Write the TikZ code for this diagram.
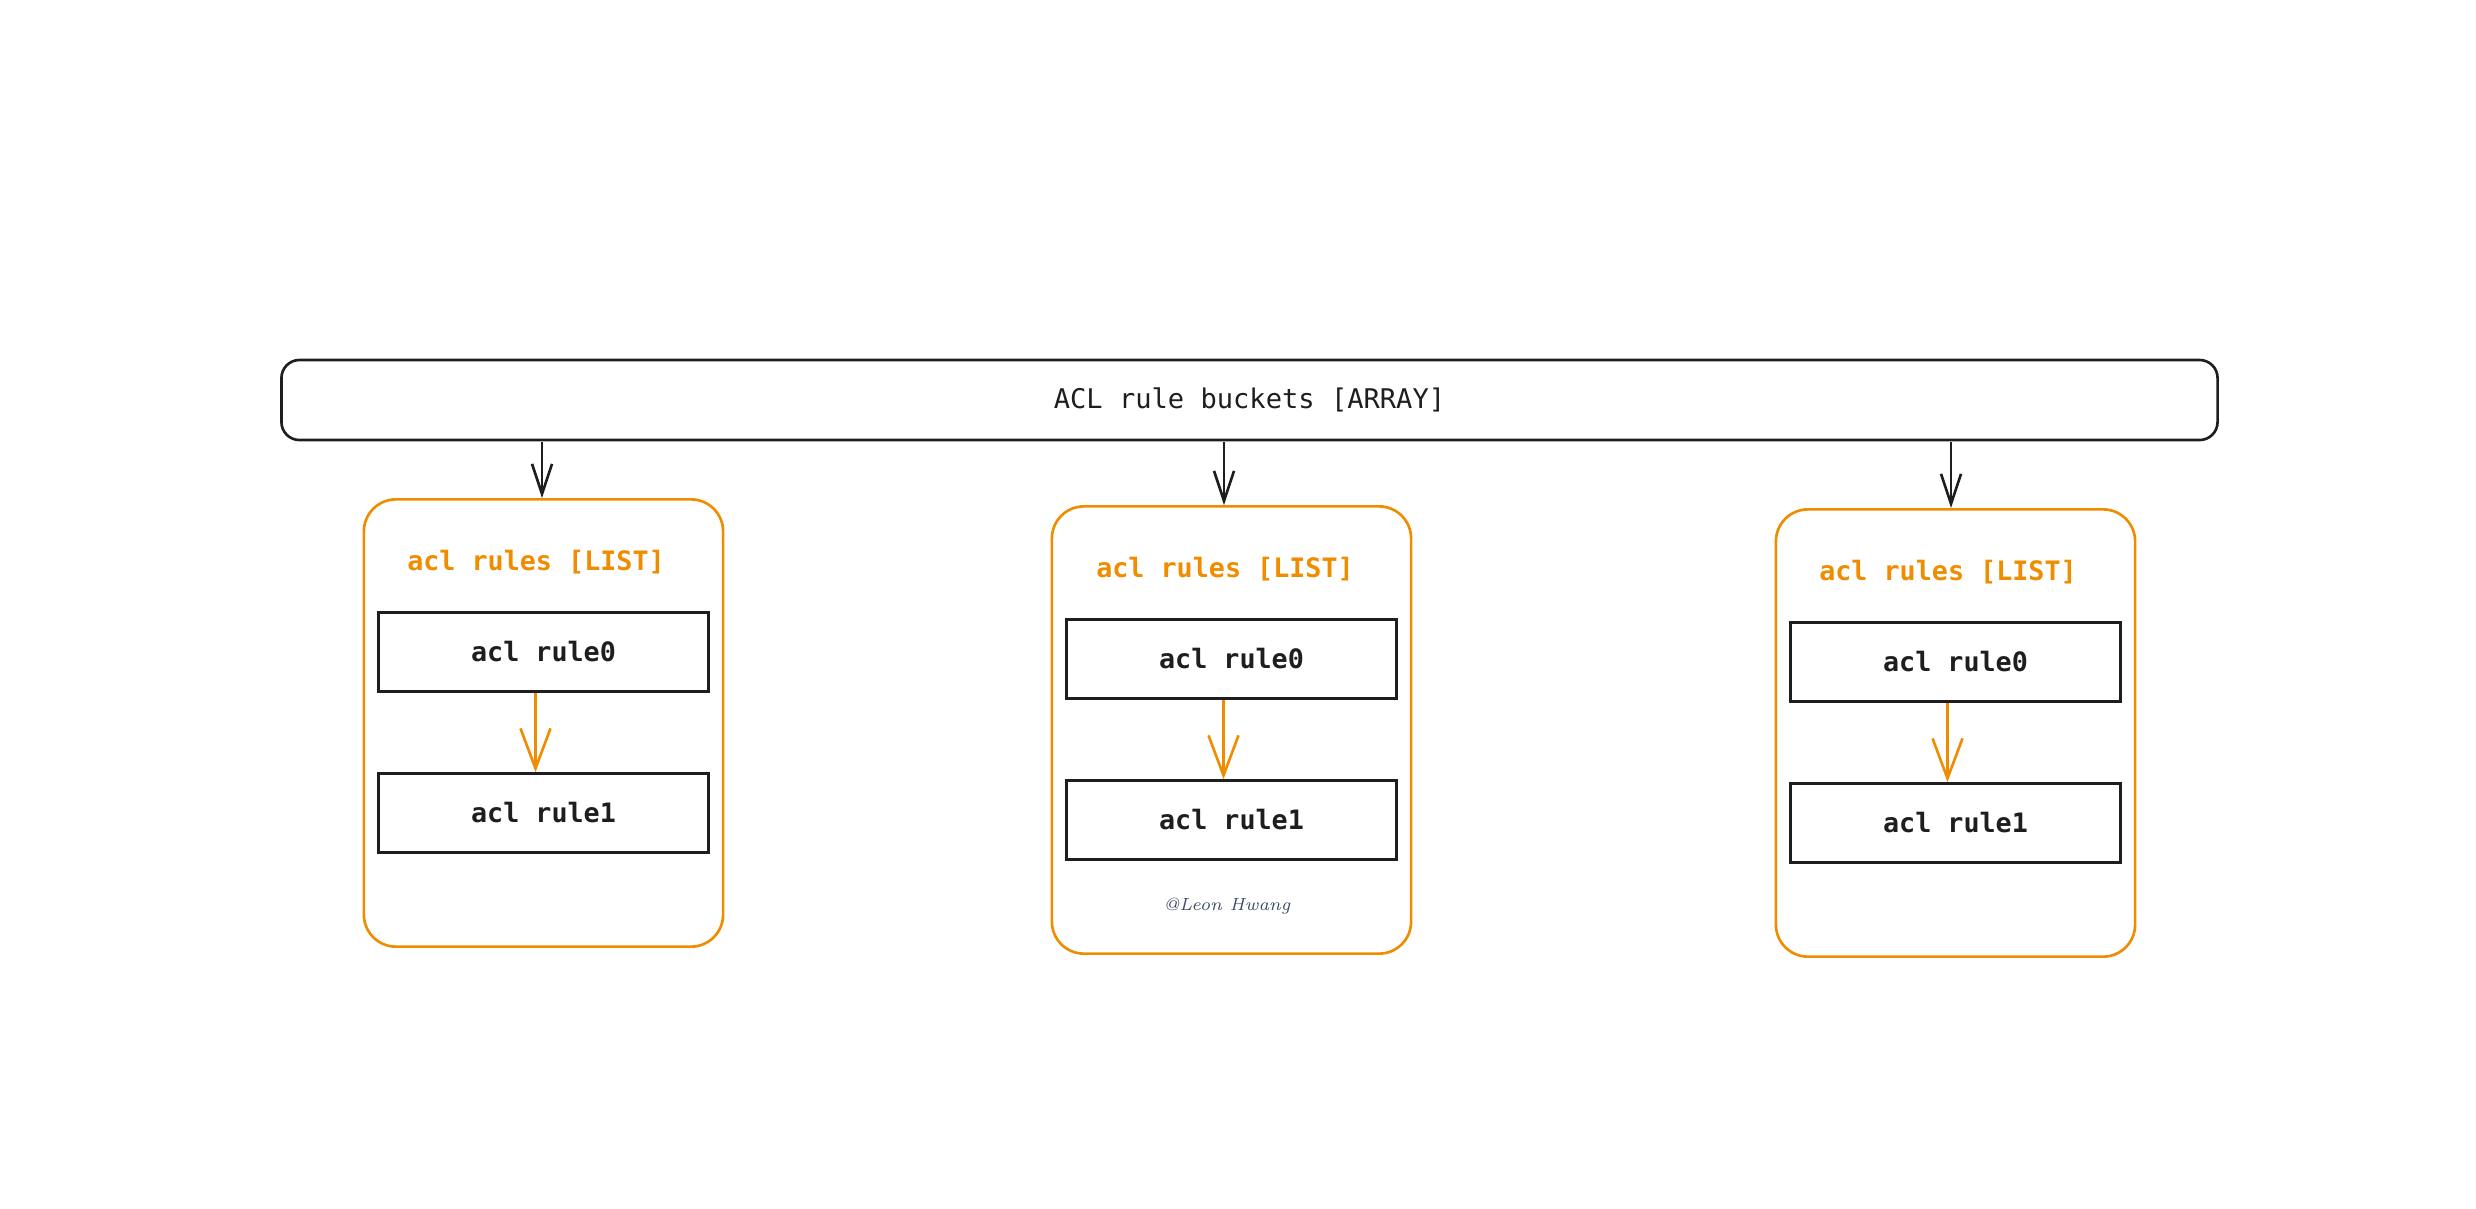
\documentclass[tikz,border=0pt]{standalone}
\usepackage{fontspec}
\setmonofont{DejaVu Sans Mono}
\usetikzlibrary{arrows.meta, positioning}

\definecolor{inkblack}{HTML}{1E1E1E}
\definecolor{listorange}{HTML}{F08C00}
\definecolor{signgray}{HTML}{3B4A66}

\begin{document}
\begin{tikzpicture}[x=0.01cm, y=-0.01cm]

% Define styles
\tikzstyle{codetext}=[font=\ttfamily\fontsize{7.7}{9}\selectfont]
\tikzstyle{boldcode}=[font=\ttfamily\bfseries\fontsize{7.6}{9}\selectfont]
\tikzstyle{bucketbar}=[codetext, draw=inkblack, text=inkblack, line width=0.75pt, rounded corners=0.18cm, minimum width=19.35cm, minimum height=0.8cm]
\tikzstyle{listbox}=[draw=listorange, line width=0.75pt, rounded corners=0.32cm, minimum width=3.59cm, minimum height=4.47cm]
\tikzstyle{listtitle}=[boldcode, text=listorange]
\tikzstyle{rulebox}=[boldcode, draw=inkblack, text=inkblack, line width=0.75pt, minimum width=3.3cm, minimum height=0.79cm]
\tikzstyle{bucketarrow}=[draw=inkblack, line width=0.75pt, -{Straight Barb[length=0.3cm, width=0.2cm]}]
\tikzstyle{nextarrow}=[draw=listorange, line width=0.75pt, -{Straight Barb[length=0.4cm, width=0.3cm]}]
\tikzstyle{signature}=[font=\itshape\fontsize{5}{6}\selectfont, text=signgray]

% Canvas
\useasboundingbox (0,0) rectangle (2476,1208);

% Bucket array
\node[bucketbar] (bar) at (1249.5,400) {ACL rule buckets [ARRAY]};

% Lists: index / box centre x / box centre y / drop x / title x
\foreach \i/\bx/\by/\ax/\tx in {1/543.5/723/542/536, 2/1231.5/730/1224/1225, 3/1955.5/733/1951/1948} {
  \node[listbox] (list\i) at (\bx,\by) {};
  \node[listtitle] (title\i) at (\tx,\by-161) {acl rules [LIST]};
  \node[rulebox] (rulea\i) at (\bx,\by-71) {acl rule0};
  \node[rulebox] (ruleb\i) at (\bx,\by+90) {acl rule1};
  \coordinate (drop\i) at (\ax,442);
  \draw[bucketarrow] (drop\i) -- (drop\i |- list\i.north);
  \draw[nextarrow] ([xshift=-0.08cm]rulea\i.south) -- ([xshift=-0.08cm]ruleb\i.north);
}

% Watermark
\node[signature] (sign) at (1227,906) {@Leon Hwang};

\end{tikzpicture}
\end{document}
